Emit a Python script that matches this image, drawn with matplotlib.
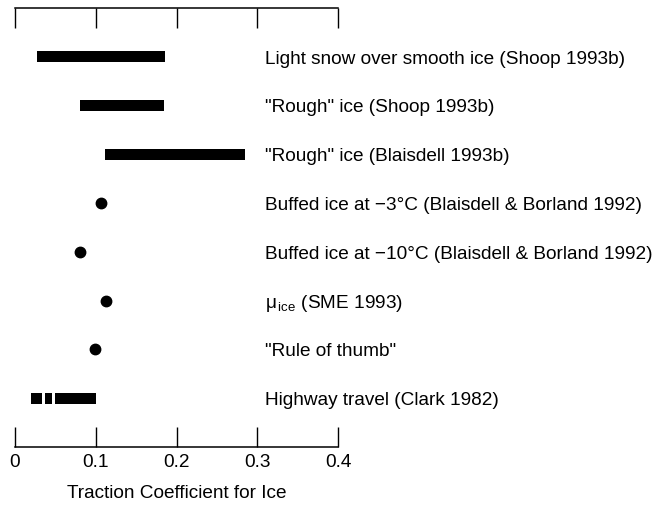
import matplotlib
matplotlib.use("Agg")
import matplotlib.pyplot as plt

plt.rcParams['font.family'] = ['Liberation Sans', 'DejaVu Sans']
plt.rcParams['mathtext.fontset'] = 'custom'
plt.rcParams['mathtext.rm'] = 'Liberation Sans'
plt.rcParams['mathtext.it'] = 'Liberation Sans:italic'

labels = [
    "Light snow over smooth ice (Shoop 1993b)",
    "\"Rough\" ice (Shoop 1993b)",
    "\"Rough\" ice (Blaisdell 1993b)",
    "Buffed ice at \u22123\u00b0C (Blaisdell & Borland 1992)",
    "Buffed ice at \u221210\u00b0C (Blaisdell & Borland 1992)",
    "\u03bc$_{\\,\\mathrm{ice}}$ (SME 1993)",
    "\"Rule of thumb\"",
    "Highway travel (Clark 1982)",
]
# ranges: (row, low, high)
range_rows = [0, 1, 2]
range_low = [0.027, 0.080, 0.112]
range_high = [0.186, 0.185, 0.285]
# points: (row, value)
point_rows = [3, 4, 5, 6]
point_vals = [0.107, 0.081, 0.113, 0.099]
# highway: broken segments
hw_row = 7
hw_low = [0.020, 0.037, 0.049]
hw_high = [0.033, 0.046, 0.100]
xticks = [0, 0.1, 0.2, 0.3, 0.4]
xticklabels = ["0", "0.1", "0.2", "0.3", "0.4"]
xlabel = "Traction Coefficient for Ice"

FS = 13.7

fig = plt.figure(figsize=(6.58, 5.08), dpi=100)
ax = fig.add_axes([15/658, 1-447/508, (338-15)/658, (447-8)/508])

bh = 0.23
for r, lo, hi in zip(range_rows, range_low, range_high):
    ax.barh(r, hi - lo, left=lo, height=bh, color='black')
ax.plot(point_vals, point_rows, 'o', color='black', markersize=7.5, linestyle='none')
for lo, hi in zip(hw_low, hw_high):
    ax.barh(hw_row, hi - lo, left=lo, height=bh, color='black')

for i, lab in enumerate(labels):
    ax.text(0.309, i + 0.05, lab, fontsize=FS, va='center', ha='left', clip_on=False)

ax.set_xlim(0, 0.4)
ax.set_ylim(8, -1)
ax.set_xticks(xticks)
ax.set_xticklabels(xticklabels, fontsize=FS)
ax.set_yticks([])
ax.spines['left'].set_visible(False)
ax.spines['right'].set_visible(False)
ax.spines['top'].set_linewidth(1.1)
ax.spines['bottom'].set_linewidth(1.1)
ax.tick_params(axis='x', top=True, bottom=True, direction='in', length=14.5, width=1.0, labeltop=False, pad=5)
ax.set_xlabel(xlabel, fontsize=FS, labelpad=10)

fig.savefig("out.png", dpi=100)
